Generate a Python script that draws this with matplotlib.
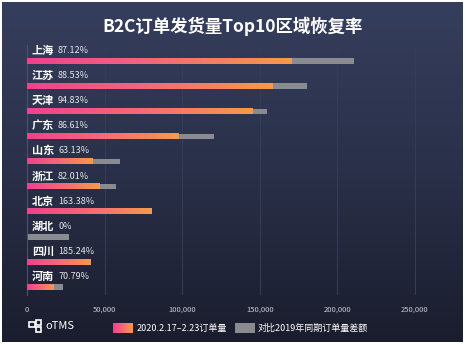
import numpy as np
import matplotlib.pyplot as plt
from matplotlib.colors import LinearSegmentedColormap
from matplotlib.patches import Rectangle

plt.rcParams['font.family'] = ['Noto Sans CJK SC', 'DejaVu Sans']

regions = ['上海', '江苏', '天津', '广东', '山东', '浙江', '北京', '湖北', '四川', '河南']
rates = ['87.12%', '88.53%', '94.83%', '86.61%', '63.13%', '82.01%', '163.38%', '0%', '185.24%', '70.79%']
orders_2020 = [170700, 158500, 145000, 97300, 41900, 47000, 80500, 0, 41200, 16800]
gap_2019 = [210700, 180400, 154600, 120500, 59900, 57300, 0, 27100, 0, 23200]
xticks = [0, 50000, 100000, 150000, 200000, 250000]
xticklabels = ['0', '50,000', '100,000', '150,000', '200,000', '250,000']

W, H = 466, 345
fig = plt.figure(figsize=(W / 100, H / 100), dpi=100, facecolor='white')

# background gradient
bg = fig.add_axes([2 / W, 3 / H, 461 / W, 340 / H])
bg_cmap = LinearSegmentedColormap.from_list('bg', ['#353e5d', '#2a3049', '#1a1d2d'])
bg.imshow(np.linspace(0, 1, 256).reshape(-1, 1), aspect='auto', cmap=bg_cmap,
          extent=[0, 1, 0, 1])
bg.axis('off')

bar_cmap = LinearSegmentedColormap.from_list('bar', ['#f0418d', '#f46a78', '#f79a48'])
grad = np.linspace(0, 1, 256).reshape(1, -1)

ax = fig.add_axes([27 / W, 1 - 295 / H, 420 / W, 250 / H])
ax.set_facecolor('none')
xmax = 250000 * 420 / 388

bh = 0.22
for i, (r, p, v, g) in enumerate(zip(regions, rates, orders_2020, gap_2019)):
    if g > 0:
        ax.barh(i, g, height=bh, color='#8a8b90', zorder=2)
    if v > 0:
        ax.imshow(grad, cmap=bar_cmap, aspect='auto', zorder=3,
                  extent=[0, v, i + bh / 2, i - bh / 2])
    ax.text(3000, i - 0.42, r, color='white', fontsize=8, fontweight='bold',
            va='center', ha='left', zorder=4)
    ax.text(20000, i - 0.42, p, color='#e6e6ea', fontsize=6.5,
            va='center', ha='left', zorder=4)

ax.set_xlim(0, xmax)
ax.set_ylim(9.32, -0.64)
ax.set_xticks(xticks)
ax.set_xticklabels(xticklabels, color='#c8cad4', fontsize=5.5)
ax.tick_params(axis='x', length=0, pad=8)
ax.set_yticks([])
for x in xticks[1:]:
    ax.axvline(x, color='#363d5a', lw=0.7, zorder=1)
for s in ['top', 'right', 'bottom']:
    ax.spines[s].set_visible(False)
ax.spines['left'].set_color('#4a5170')
ax.spines['left'].set_linewidth(0.8)

fig.text(0.5, 1 - 26 / H, 'B2C订单发货量Top10区域恢复率', color='white', fontsize=12.5,
         fontweight='bold', ha='center', va='center')

# footer: logo and legend
for (lx, ly, lw, lh) in [(29, 322, 6, 5), (36, 320, 5, 5), (36, 327, 5, 5)]:
    fig.patches.append(Rectangle((lx / W, 1 - (ly + lh) / H), lw / W, lh / H,
                                 transform=fig.transFigure, fill=False,
                                 edgecolor='white', lw=1.2))
fig.text(45 / W, 1 - 326 / H, 'oTMS', color='white', fontsize=8, ha='left', va='center')
lg1 = fig.add_axes([113 / W, 1 - 333 / H, 20 / W, 10 / H])
lg1.imshow(grad, cmap=bar_cmap, aspect='auto')
lg1.axis('off')
fig.text(137 / W, 1 - 328 / H, '2020.2.17–2.23订单量', color='white', fontsize=6.5,
         ha='left', va='center')
lg2 = fig.add_axes([235 / W, 1 - 333 / H, 20 / W, 10 / H])
lg2.set_facecolor('#8a8b90')
lg2.set_xticks([])
lg2.set_yticks([])
for s in lg2.spines.values():
    s.set_visible(False)
fig.text(258 / W, 1 - 328 / H, '对比2019年同期订单量差额', color='white', fontsize=6.5,
         ha='left', va='center')

fig.savefig('out.png', dpi=100, facecolor=fig.get_facecolor())
